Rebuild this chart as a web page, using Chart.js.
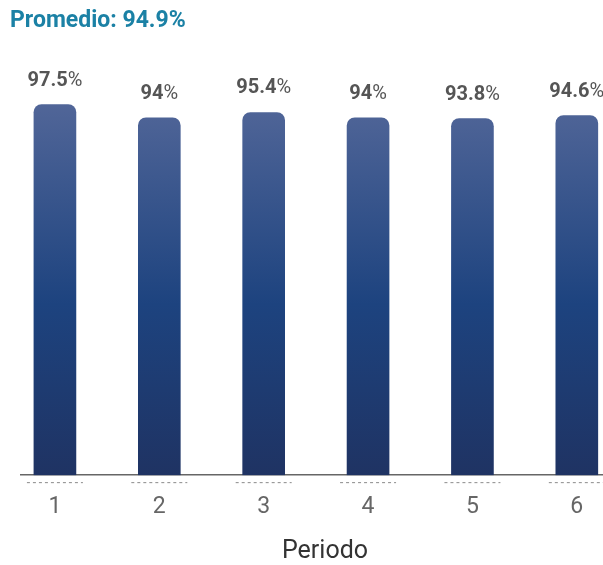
<!DOCTYPE html>
<html>
<head>
<meta charset="utf-8">
<script src="https://cdn.jsdelivr.net/npm/chart.js@4.4.1/dist/chart.umd.min.js"></script>
<style>
html,body{margin:0;padding:0;background:#fff;overflow:hidden;width:603px;height:565px;}
#wrap{position:absolute;left:0;top:0;width:629px;height:565px;}
</style>
</head>
<body>
<div id="wrap"><canvas id="c" width="629" height="565"></canvas></div>
<script>
const titleText = 'Promedio: 94.9%';
const axisTitle = 'Periodo';
const categories = ['1', '2', '3', '4', '5', '6'];
const values = [97.5, 94, 95.4, 94, 93.8, 94.6];
const positions = [1, 2, 3, 4, 5, 6];

const labelPlugin = {
  id: 'valueLabels',
  afterDatasetsDraw(chart) {
    const ctx = chart.ctx;
    const meta = chart.getDatasetMeta(0);
    ctx.save();
    ctx.fillStyle = '#555555';
    ctx.textBaseline = 'alphabetic';
    meta.data.forEach((bar, i) => {
      const num = String(values[i]);
      ctx.font = 'bold 20px Roboto';
      const w1 = ctx.measureText(num).width;
      ctx.font = '20px Roboto';
      const w2 = ctx.measureText('%').width;
      const x0 = bar.x - (w1 + w2) / 2;
      const y = bar.y - 19;
      ctx.textAlign = 'left';
      ctx.font = 'bold 20px Roboto';
      ctx.fillText(num, x0, y);
      ctx.font = '20px Roboto';
      ctx.fillText('%', x0 + w1, y);
    });
    ctx.restore();
  },
  afterDraw(chart) {
    const ctx = chart.ctx;
    const sx = chart.scales.x;
    const y = chart.chartArea.bottom + 7.5;
    ctx.save();
    ctx.strokeStyle = '#8a8a8a';
    ctx.lineWidth = 1;
    ctx.setLineDash([3, 3]);
    positions.forEach(p => {
      const x = sx.getPixelForValue(p);
      ctx.beginPath();
      ctx.moveTo(x - 28, y);
      ctx.lineTo(x + 28, y);
      ctx.stroke();
    });
    ctx.restore();
  }
};

const ctx = document.getElementById('c').getContext('2d');
new Chart(ctx, {
  type: 'bar',
  data: {
    datasets: [{
      data: positions.map((p, i) => ({ x: p, y: values[i] })),
      backgroundColor: (c) => {
        const area = c.chart.chartArea;
        if (!area) return '#1e427f';
        const g = c.chart.ctx.createLinearGradient(0, area.top, 0, area.bottom);
        g.addColorStop(0, '#536799');
        g.addColorStop(0.55, '#1d437f');
        g.addColorStop(1, '#1f3363');
        return g;
      },
      borderRadius: { topLeft: 8, topRight: 8, bottomLeft: 0, bottomRight: 0 },
      borderSkipped: 'bottom',
      barThickness: 42
    }]
  },
  options: {
    responsive: false,
    animation: false,
    devicePixelRatio: 1,
    layout: { padding: { left: 10, right: 0, top: 0, bottom: 0 } },
    plugins: {
      legend: { display: false },
      tooltip: { enabled: false },
      title: {
        display: true,
        text: titleText,
        align: 'start',
        color: '#1b81a5',
        font: { family: 'Roboto', size: 23, weight: 'bold' },
        padding: { top: 7, bottom: 60.4 }
      }
    },
    scales: {
      x: {
        type: 'linear',
        offset: false,
        min: 0.675,
        max: 6.5,
        grid: { display: false, drawTicks: false },
        border: { display: true, color: '#666666', width: 1.5 },
        afterBuildTicks: (s) => { s.ticks = positions.map(v => ({ value: v })); },
        ticks: {
          padding: 18,
          color: '#666666',
          font: { family: 'Roboto', size: 23 },
          callback: (v) => categories[positions.indexOf(v)]
        },
        title: {
          display: true,
          text: axisTitle,
          color: '#333333',
          font: { family: 'Roboto', size: 25, lineHeight: 1.05 },
          padding: { top: 0, bottom: 0 }
        }
      },
      y: {
        min: 0,
        max: 100,
        display: true,
        grid: { display: false, drawTicks: false },
        border: { display: false },
        ticks: { display: false },
        afterFit: (s) => { s.width = 11; }
      }
    }
  },
  plugins: [labelPlugin]
});
</script>
</body>
</html>
